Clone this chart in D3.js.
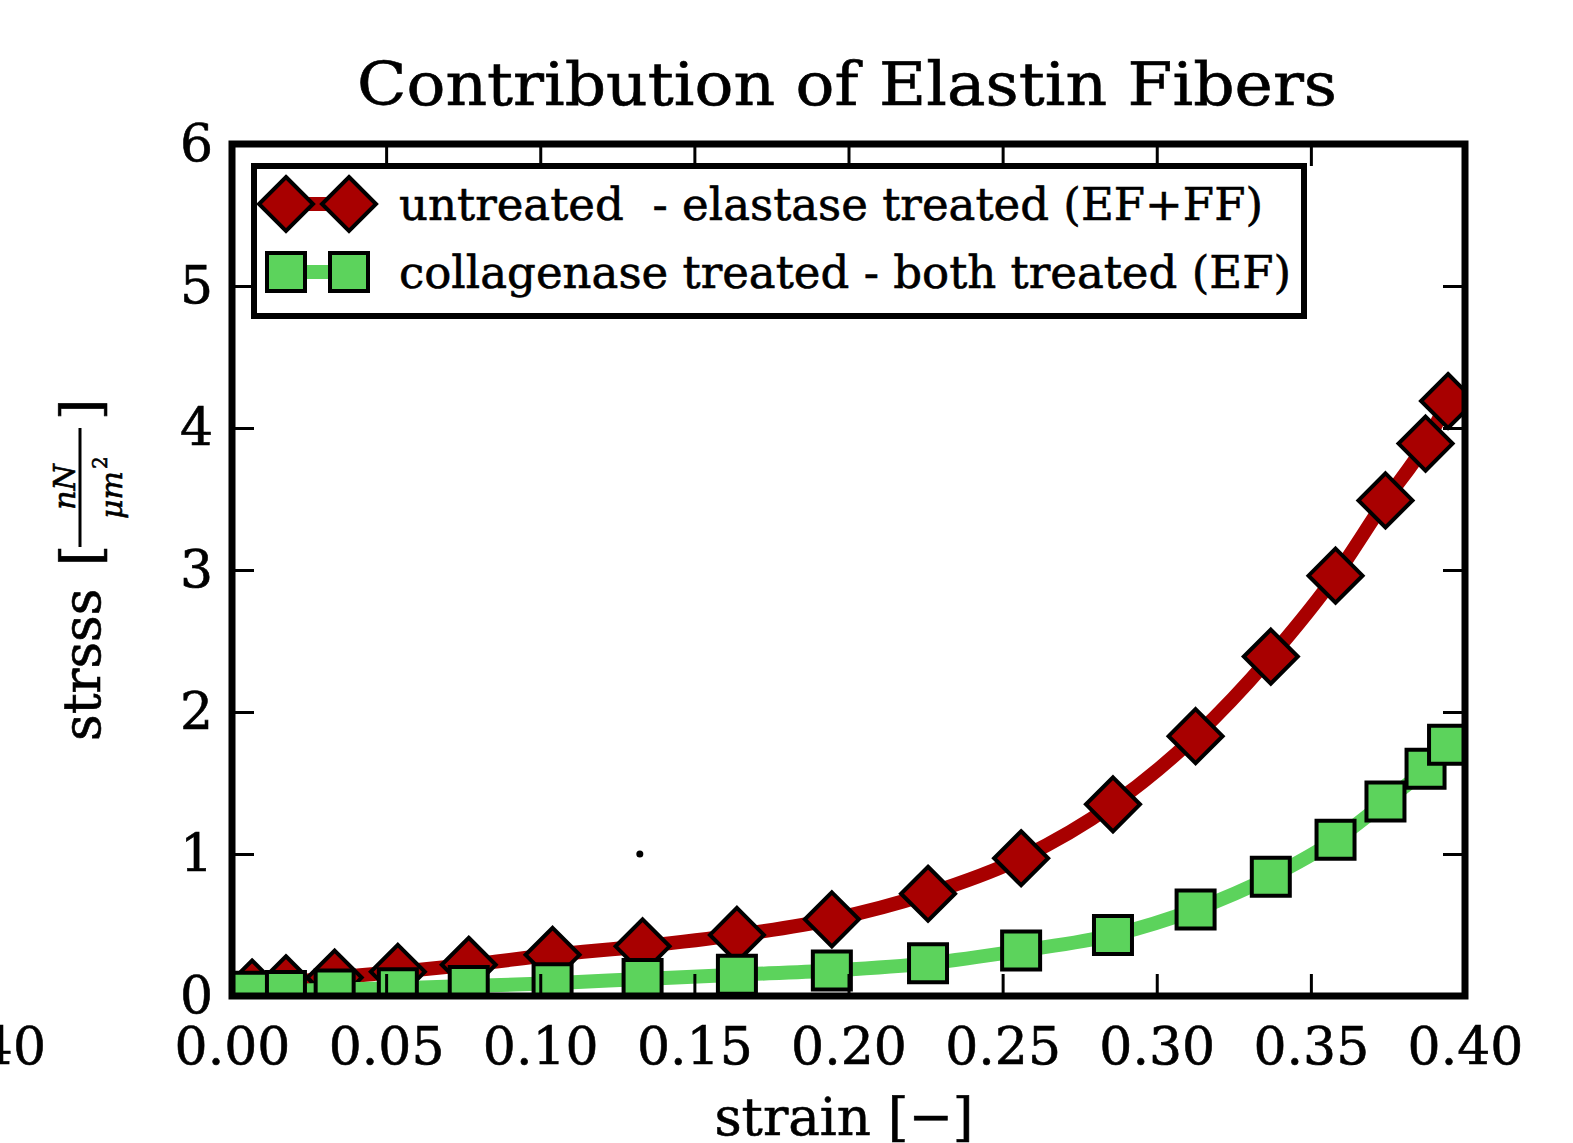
<!DOCTYPE html>
<html>
<head>
<meta charset="utf-8">
<script src="https://cdn.jsdelivr.net/npm/d3@7"></script>
<style>
    body { margin: 0; background: #fff; }
    text { font-family: 'DejaVu Serif', serif; fill: #000; stroke: #000; stroke-width: 0.6px; }
</style>
</head>
<body>
<div id="chart"></div>
<script>
// values
const strain = [0.0065, 0.0175, 0.0333, 0.0538, 0.0768, 0.1040, 0.1332, 0.1638, 0.1946, 0.2258, 0.2560, 0.2858, 0.3126, 0.3370, 0.3580, 0.3742, 0.3872, 0.3945]
const untreatedMinusElastase = [0.06, 0.09, 0.13, 0.17, 0.22, 0.29, 0.35, 0.43, 0.54, 0.72, 0.97, 1.35, 1.83, 2.39, 2.96, 3.49, 3.89, 4.19]
const collagenaseMinusBoth = [0.03, 0.035, 0.045, 0.055, 0.07, 0.09, 0.12, 0.15, 0.18, 0.23, 0.32, 0.43, 0.61, 0.84, 1.10, 1.37, 1.60, 1.77]
const xTicks = [0, 0.05, 0.10, 0.15, 0.20, 0.25, 0.30, 0.35, 0.40]
const yTicks = [0, 1, 2, 3, 4, 5, 6]
const legendLabels = ['untreated  - elastase treated (EF+FF)', 'collagenase treated - both treated (EF)']
const strayDot = [[0.1323, 1.0]]

const width = 1573
const height = 1143
const plot = { left: 232, right: 1465, top: 144, bottom: 996 }
const red = '#a80000'
const green = '#5cd35c'

const svg = d3.select('#chart').
    append('svg').
    attr('width', width).
    attr('height', height).
    style('display', 'block').
    style('background', '#fff')

const x = d3.scaleLinear().domain([0, 0.4]).range([plot.left, plot.right])
const y = d3.scaleLinear().domain([0, 6]).range([plot.bottom, plot.top])

const diamond = s => `M0,${-s}L${s},0L0,${s}L${-s},0Z`
const square = s => `M${-s},${-s}H${s}V${s}H${-s}Z`

svg.append('clipPath').attr('id', 'plot-clip').
    append('rect').
    attr('x', plot.left).attr('y', plot.top).
    attr('width', plot.right - plot.left).attr('height', plot.bottom - plot.top)

const area = svg.append('g').attr('clip-path', 'url(#plot-clip)')

const series = [
    { values: untreatedMinusElastase, color: red, marker: diamond(27) },
    { values: collagenaseMinusBoth, color: green, marker: square(19) }
]

series.forEach(s => {
    const pts = strain.map((v, i) => [v, s.values[i]])
    const line = d3.line().x(d => x(d[0])).y(d => y(d[1])).curve(d3.curveMonotoneX)
    area.append('path').
        attr('d', line(pts)).
        attr('fill', 'none').
        attr('stroke', s.color).
        attr('stroke-width', 14)
    area.selectAll(null).
        data(pts).
        enter().
        append('path').
        attr('d', s.marker).
        attr('transform', d => `translate(${x(d[0])}, ${y(d[1])})`).
        attr('fill', s.color).
        attr('stroke', '#000').
        attr('stroke-width', 4).
        attr('stroke-linejoin', 'miter')
})

// small stray dot
svg.selectAll(null).data(strayDot).enter().append('circle').
    attr('cx', d => x(d[0])).attr('cy', d => y(d[1])).attr('r', 3.5).attr('fill', '#000')

// axes, ticks pointing inward
const styleAxis = g => {
    g.select('.domain').remove()
    g.selectAll('.tick line').attr('stroke', '#000').attr('stroke-width', 3)
    g.selectAll('.tick text').attr('font-family', 'DejaVu Serif').attr('font-size', 52).attr('fill', '#000')
}

svg.append('g').
    attr('transform', `translate(0, ${plot.bottom})`).
    call(d3.axisBottom(x).tickValues(xTicks).tickFormat(d3.format('.2f')).tickSizeInner(-22).tickSizeOuter(0).tickPadding(31)).
    call(styleAxis)

svg.append('g').
    attr('transform', `translate(0, ${plot.top})`).
    call(d3.axisTop(x).tickValues(xTicks).tickFormat('').tickSizeInner(-22).tickSizeOuter(0)).
    call(styleAxis)

svg.append('g').
    attr('transform', `translate(${plot.left}, 0)`).
    call(d3.axisLeft(y).tickValues(yTicks).tickFormat(d3.format('d')).tickSizeInner(-22).tickSizeOuter(0).tickPadding(19)).
    call(styleAxis)

svg.append('g').
    attr('transform', `translate(${plot.right}, 0)`).
    call(d3.axisRight(y).tickValues(yTicks).tickFormat('').tickSizeInner(-22).tickSizeOuter(0)).
    call(styleAxis)

// frame
svg.append('rect').
    attr('x', plot.left).attr('y', plot.top).
    attr('width', plot.right - plot.left).attr('height', plot.bottom - plot.top).
    attr('fill', 'none').attr('stroke', '#000').attr('stroke-width', 7)

// stray cut-off tick label at the far left
svg.append('text').
    text('0.40').
    attr('x', 46).attr('y', plot.bottom + 31 + 37).
    attr('text-anchor', 'end').
    attr('font-size', 52)

// title
svg.append('text').
    text('Contribution of Elastin Fibers').
    attr('x', 847).attr('y', 105).
    attr('text-anchor', 'middle').
    attr('font-size', 60).
    attr('textLength', 980).
    attr('lengthAdjust', 'spacingAndGlyphs')

// x label
svg.append('text').
    text('strain [\u2212]').
    attr('x', 844).attr('y', 1135).
    attr('text-anchor', 'middle').
    attr('font-size', 53)

// y label, rotated
const yl = svg.append('g').attr('transform', 'translate(100, 0) rotate(-90)')
yl.append('text').text('strsss').attr('x', -741).attr('y', 0).attr('font-size', 52)
yl.append('text').text('[').attr('x', -566).attr('y', 0).attr('font-size', 54)
yl.append('line').attr('x1', -547).attr('x2', -428).attr('y1', -20).attr('y2', -20).attr('stroke', '#000').attr('stroke-width', 3)
yl.append('text').text('nN').attr('x', -487).attr('y', -25).attr('text-anchor', 'middle').attr('font-size', 30).attr('font-style', 'italic')
yl.append('text').text('\u03bcm').attr('x', -495).attr('y', 22).attr('text-anchor', 'middle').attr('font-size', 30).attr('font-style', 'italic')
yl.append('text').text('2').attr('x', -469).attr('y', 7).attr('font-size', 20)
yl.append('text').text(']').attr('x', -420).attr('y', 0).attr('font-size', 54)

// legend
const legend = svg.append('g')
legend.append('rect').
    attr('x', 254).attr('y', 166).attr('width', 1050).attr('height', 150).
    attr('fill', '#fff').attr('stroke', '#000').attr('stroke-width', 6)

const legendRows = [
    { label: legendLabels[0], color: red, marker: diamond(27), cy: 204, xs: [286, 349], len: 864 },
    { label: legendLabels[1], color: green, marker: square(19), cy: 272, xs: [286, 349], len: 892 }
]
legendRows.forEach(r => {
    legend.append('line').
        attr('x1', r.xs[0]).attr('x2', r.xs[1]).attr('y1', r.cy).attr('y2', r.cy).
        attr('stroke', r.color).attr('stroke-width', 14)
    legend.selectAll(null).data(r.xs).enter().append('path').
        attr('d', r.marker).
        attr('transform', d => `translate(${d}, ${r.cy})`).
        attr('fill', r.color).attr('stroke', '#000').attr('stroke-width', 4)
    legend.append('text').
        text(r.label).
        attr('x', 399).attr('y', r.cy + 16).
        attr('font-size', 45).
        attr('textLength', r.len).
        attr('lengthAdjust', 'spacingAndGlyphs').
        style('white-space', 'pre')
})
</script>
</body>
</html>
